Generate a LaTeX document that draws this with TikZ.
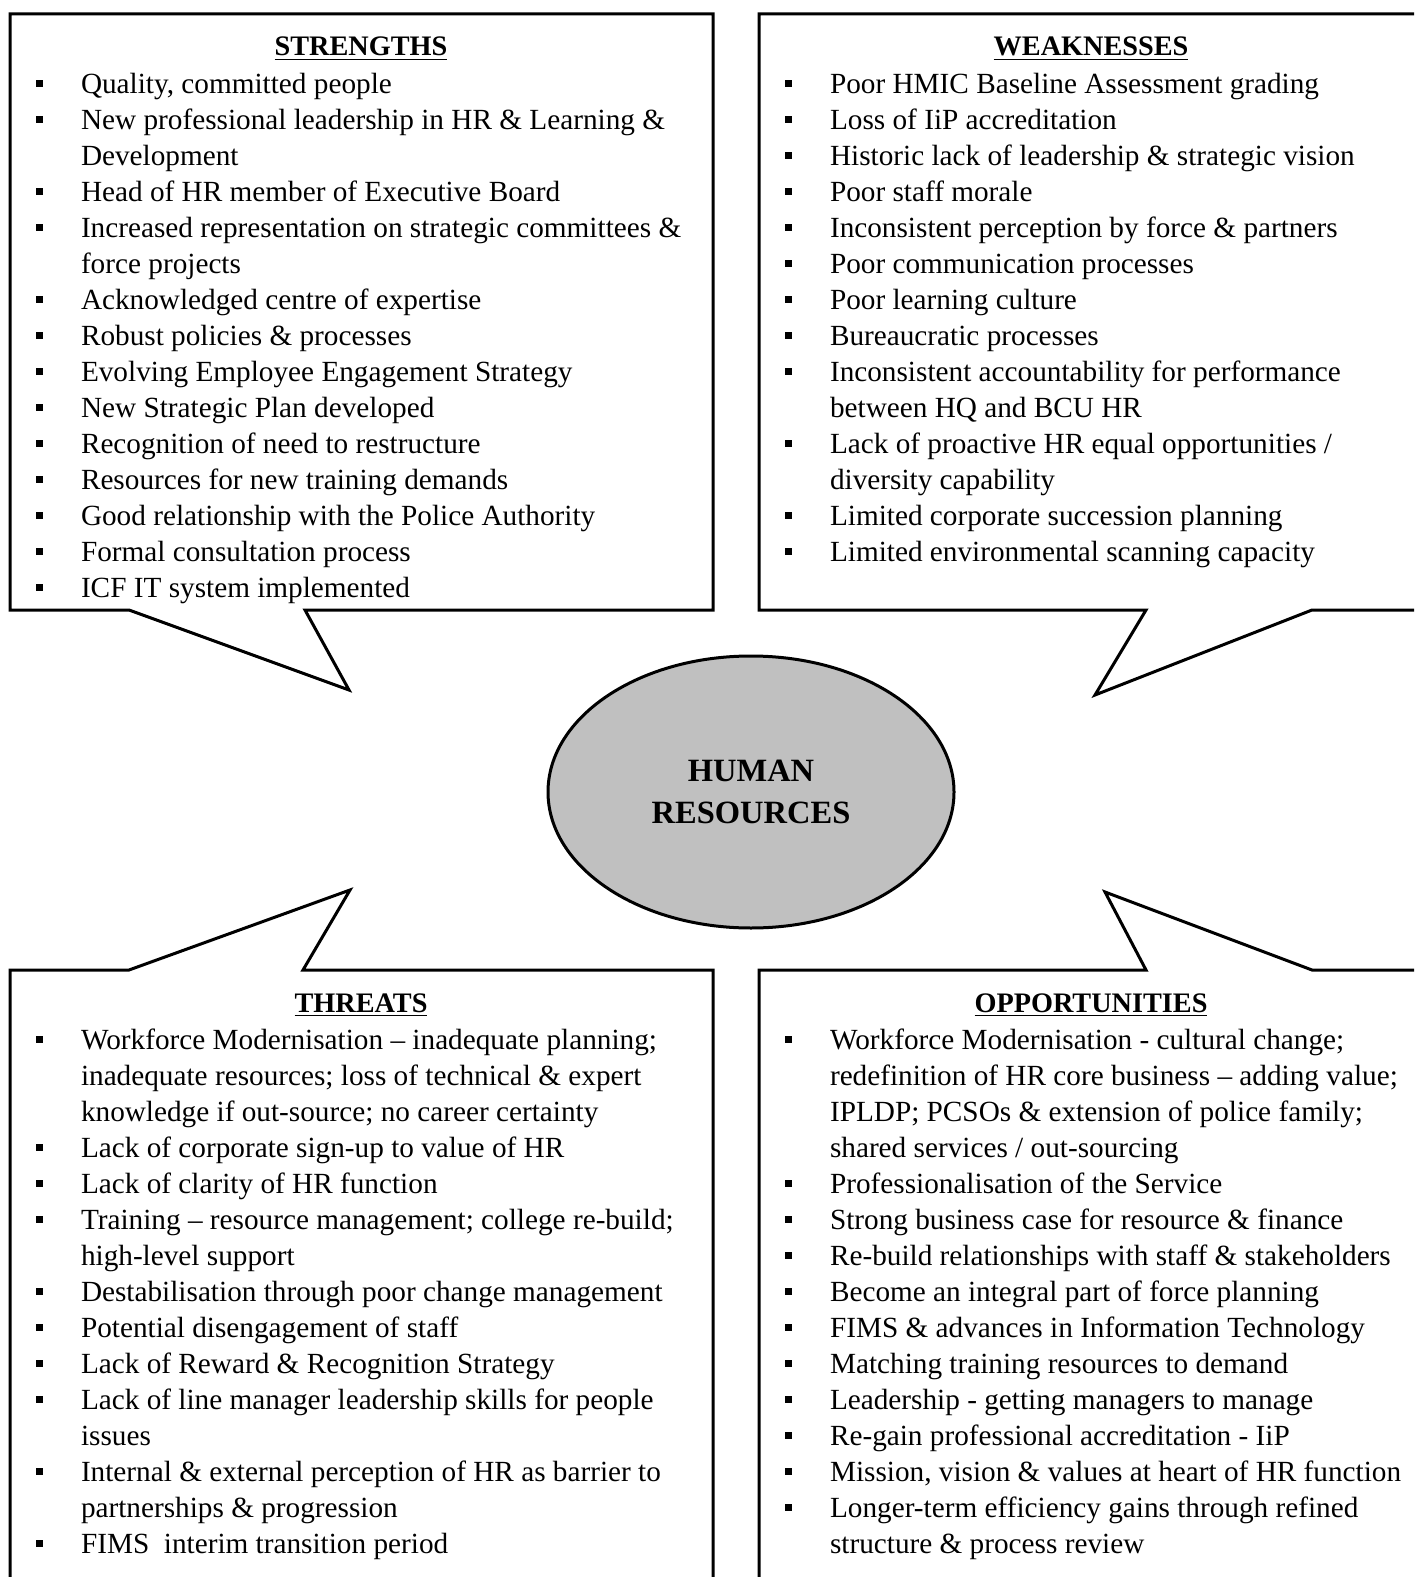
\documentclass[tikz,border=0pt]{standalone}
\usepackage{fontspec}
\setmainfont{Liberation Serif}
\usetikzlibrary{positioning,shapes.geometric}
\definecolor{hrgray}{RGB}{192,192,192}
\newlength{\pxu}\setlength{\pxu}{0.4pt}
% bullet and hanging indent for the lists
\newcommand{\bul}{\makebox[18.2pt][l]{\rule[2.8pt]{2.8pt}{2.8pt}}}
\newcommand{\ind}{\hspace*{18.2pt}}

\begin{document}
\begin{tikzpicture}
		[
			x=\pxu, y=-\pxu,
			box/.style={draw, line width=1.2pt, line join=miter},
			heading/.style={font={\fontsize{11.3}{14.4}\selectfont\bfseries}, anchor=base, inner sep=0},
			list/.style={font={\fontsize{11.7}{14.4}\selectfont}, align=left, anchor=north west, inner sep=0},
			core/.style={ellipse, draw, line width=1.2pt, fill=hrgray, minimum width=406\pxu, minimum height=272\pxu,
				align=center, font={\fontsize{13}{17}\selectfont\bfseries}},
		]
		\useasboundingbox (0,0) rectangle (1414,1577);
		\clip (0,0) rectangle (1414,1577);

		\node[core] (hr) at (751,792) {HUMAN\\RESOURCES};

		% callout tips
		\coordinate (stip) at (349,690);
		\coordinate (wtip) at (1095,695);
		\coordinate (ttip) at (350,890);
		\coordinate (otip) at (1105,892);

		\draw[box] (10,14) -- (713,14) -- (713,610) -- (305,610) -- (stip) -- (129,610) -- (10,610) -- cycle;
		\draw[box] (759,14) -- (1430,14) -- (1430,610) -- (1312,610) -- (wtip) -- (1146,610) -- (759,610) -- cycle;
		\draw[box] (10,1600) -- (10,970) -- (129,970) -- (ttip) -- (303,970) -- (713,970) -- (713,1600) -- cycle;
		\draw[box] (759,1600) -- (759,970) -- (1146,970) -- (otip) -- (1312,970) -- (1430,970) -- (1430,1600) -- cycle;

		\node[heading] (stitle) at (361,56) {\underline{STRENGTHS}};
		\node[heading] (wtitle) at (1091,56) {\underline{WEAKNESSES}};
		\node[heading] (ttitle) at (361,1012) {\underline{THREATS}};
		\node[heading] (otitle) at (1091,1012) {\underline{OPPORTUNITIES}};

		\node[list] (slist) at (35,68) {\strut\bul Quality, committed people\\
			\bul New professional leadership in HR \& Learning \&\\
			\ind Development\\
			\bul Head of HR member of Executive Board\\
			\bul Increased representation on strategic committees \&\\
			\ind force projects\\
			\bul Acknowledged centre of expertise\\
			\bul Robust policies \& processes\\
			\bul Evolving Employee Engagement Strategy\\
			\bul New Strategic Plan developed\\
			\bul Recognition of need to restructure\\
			\bul Resources for new training demands\\
			\bul Good relationship with the Police Authority\\
			\bul Formal consultation process\\
			\bul ICF IT system implemented};

		\node[list] (wlist) at (784,68) {\strut\bul Poor HMIC Baseline Assessment grading\\
			\bul Loss of IiP accreditation\\
			\bul Historic lack of leadership \& strategic vision\\
			\bul Poor staff morale\\
			\bul Inconsistent perception by force \& partners\\
			\bul Poor communication processes\\
			\bul Poor learning culture\\
			\bul Bureaucratic processes\\
			\bul Inconsistent accountability for performance\\
			\ind between HQ and BCU HR\\
			\bul Lack of proactive HR equal opportunities /\\
			\ind diversity capability\\
			\bul Limited corporate succession planning\\
			\bul Limited environmental scanning capacity};

		\node[list] (tlist) at (35,1024) {\strut\bul Workforce Modernisation – inadequate planning;\\
			\ind inadequate resources; loss of technical \& expert\\
			\ind knowledge if out-source; no career certainty\\
			\bul Lack of corporate sign-up to value of HR\\
			\bul Lack of clarity of HR function\\
			\bul Training – resource management; college re-build;\\
			\ind high-level support\\
			\bul Destabilisation through poor change management\\
			\bul Potential disengagement of staff\\
			\bul Lack of Reward \& Recognition Strategy\\
			\bul Lack of line manager leadership skills for people\\
			\ind issues\\
			\bul Internal \& external perception of HR as barrier to\\
			\ind partnerships \& progression\\
			\bul FIMS\ \ interim transition period};

		\node[list] (olist) at (784,1024) {\strut\bul Workforce Modernisation - cultural change;\\
			\ind redefinition of HR core business – adding value;\\
			\ind IPLDP; PCSOs \& extension of police family;\\
			\ind shared services / out-sourcing\\
			\bul Professionalisation of the Service\\
			\bul Strong business case for resource \& finance\\
			\bul Re-build relationships with staff \& stakeholders\\
			\bul Become an integral part of force planning\\
			\bul FIMS \& advances in Information Technology\\
			\bul Matching training resources to demand\\
			\bul Leadership - getting managers to manage\\
			\bul Re-gain professional accreditation - IiP\\
			\bul Mission, vision \& values at heart of HR function\\
			\bul Longer-term efficiency gains through refined\\
			\ind structure \& process review};
	\end{tikzpicture}
\end{document}
